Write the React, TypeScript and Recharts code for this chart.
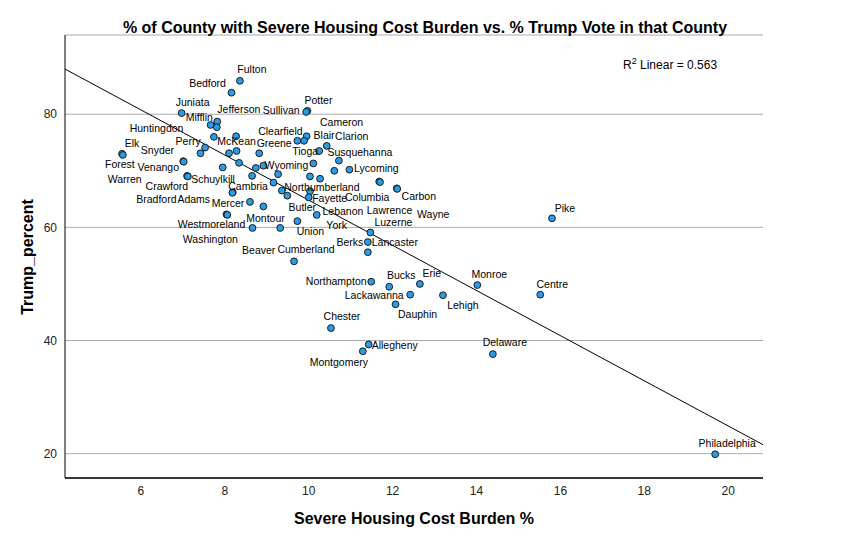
import React from "react";
import {
  ScatterChart,
  Scatter,
  XAxis,
  YAxis,
  CartesianGrid,
  ReferenceLine,
  Customized,
} from "recharts";

document.body.style.margin = "0";

// county label ("" = label suppressed, point hidden behind a neighbour's label)
const counties = [
  "Fulton", "Bedford", "Juniata", "Huntingdon", "Mifflin", "Jefferson", "Potter", "Sullivan",
  "", "", "Cameron", "Clearfield", "Blair", "Clarion", "Elk", "Forest",
  "Perry", "Snyder", "", "McKean", "Greene", "Tioga", "Susquehanna", "Venango",
  "Warren", "", "", "", "Wyoming", "", "", "Lycoming",
  "Schuylkill", "Crawford", "Cambria", "", "", "", "Columbia", "Lawrence",
  "Carbon", "Wayne", "", "Northumberland", "Butler", "Lebanon", "Fayette", "Adams",
  "Bradford", "Mercer", "", "Westmoreland", "Washington", "Montour", "Beaver", "Union",
  "York", "Luzerne", "Berks", "Lancaster", "Cumberland", "Pike", "Northampton", "Bucks",
  "Erie", "Lackawanna", "Dauphin", "Lehigh", "Monroe", "Centre", "Chester", "Allegheny",
  "Montgomery", "Delaware", "Philadelphia",
];

// % of households with severe housing cost burden
const housingBurden = [
  8.36, 8.16, 6.97, 7.66, 7.82, 7.81, 9.97, 9.94,
  7.74, 8.27, 9.95, 9.73, 9.89, 10.43, 5.55, 5.57,
  7.53, 7.42, 8.10, 8.28, 8.82, 10.25, 10.72, 7.01,
  7.02, 8.34, 7.95, 8.74, 8.92, 10.11, 10.61, 10.97,
  7.10, 7.12, 8.65, 9.27, 10.03, 10.27, 11.68, 11.70,
  12.10, 12.11, 9.16, 9.36, 9.49, 10.03, 10.0, 8.19,
  8.18, 8.60, 8.92, 8.04, 8.06, 8.66, 9.32, 9.73,
  10.19, 11.47, 11.41, 11.41, 9.65, 15.80, 11.49, 11.92,
  12.65, 12.42, 12.07, 13.20, 14.02, 15.52, 10.53, 11.43,
  11.29, 14.39, 19.69,
];

// Trump vote share (%)
const trumpPercent = [
  85.9, 83.8, 80.2, 78.1, 78.7, 77.7, 80.6, 80.4,
  76.0, 76.1, 76.1, 75.3, 75.3, 74.4, 73.0, 72.8,
  74.1, 73.1, 73.1, 73.5, 73.1, 73.5, 71.8, 71.7,
  71.6, 71.4, 70.6, 70.5, 70.9, 71.3, 70.0, 70.2,
  69.1, 69.0, 69.1, 69.4, 69.0, 68.6, 68.1, 68.0,
  66.9, 66.8, 67.9, 66.5, 65.6, 66.4, 65.3, 66.2,
  66.1, 64.5, 63.7, 62.3, 62.2, 59.9, 59.9, 61.1,
  62.2, 59.1, 57.4, 55.6, 54.0, 61.6, 50.4, 49.5,
  50.0, 48.1, 46.4, 48.0, 49.8, 48.1, 42.2, 39.3,
  38.1, 37.6, 19.9,
];

const xTicks = [6, 8, 10, 12, 14, 16, 18, 20];
const yTicks = [20, 40, 60, 80];

// linear fit shown on the plot
const fitIntercept = 104.7;
const fitSlope = -3.99;
const rSquared = 0.563;

const X_DOMAIN: [number, number] = [4.19, 20.83];
const Y_DOMAIN: [number, number] = [15.7, 94];

// label centre offset from its point, px
const labelOffset: Record<string, [number, number]> = {
  Fulton: [12, -12], Bedford: [-24, -10], Juniata: [11, -11], Huntingdon: [-54, 3],
  Mifflin: [-18, -5], Jefferson: [22, -18], Potter: [11, -11], Sullivan: [-25, -2],
  Cameron: [35, -14], Clearfield: [-17, -10], Blair: [20, -6], Clarion: [25, -10],
  Elk: [10, -11], Forest: [-3, 9.5], Perry: [-17, -7], Snyder: [-43, -3],
  McKean: [0, -10], Greene: [15, -10], Tioga: [-14, 0], Susquehanna: [21, -9],
  Venango: [-25, 6], Warren: [-59, 17], Wyoming: [23, -1], Lycoming: [27, -2],
  Schuylkill: [26, 3], Crawford: [-21, 9.5], Cambria: [-4, 10], Columbia: [-12, 15],
  Lawrence: [9.5, 27.5], Carbon: [22, 8], Wayne: [36, 25], Northumberland: [40, -4],
  Butler: [15, 11], Lebanon: [33, 20], Fayette: [21, 1], Adams: [-39, 7],
  Bradford: [-76, 6.5], Mercer: [-22, 1], Westmoreland: [-15, 10], Washington: [-17, 24],
  Montour: [13, -10], Beaver: [-21.5, 22], Union: [13, 10], York: [20, 10],
  Luzerne: [23, -10], Berks: [-18, 0], Lancaster: [27, -10], Cumberland: [12, -12],
  Pike: [13, -10], Northampton: [-35, -1], Bucks: [12, -12], Erie: [12, -11],
  Lackawanna: [-36, 0], Dauphin: [22, 10], Lehigh: [20, 10], Monroe: [12, -11],
  Centre: [12, -11], Chester: [11, -12], Allegheny: [26, 1], Montgomery: [-24, 11],
  Delaware: [12, -12], Philadelphia: [12, -11],
};

const data = counties.map((name, i) => ({
  name,
  burden: housingBurden[i],
  trump: trumpPercent[i],
}));

const fitAt = (x: number) => fitIntercept + fitSlope * x;

const FONT = "'Liberation Sans', Arial, sans-serif";
const NARROW = "'Liberation Sans Narrow', 'Liberation Sans', Arial, sans-serif";

const Dot = (props: any) => {
  const { cx, cy } = props;
  return <circle cx={cx} cy={cy} r={3.4} fill="#2a9be6" stroke="#1b1b1b" strokeWidth={1} />;
};

const CountyLabel = (props: any) => {
  const { cx, cy, payload } = props;
  const off = labelOffset[payload.name];
  if (!payload.name || !off) return <g />;
  return (
    <text
      x={cx + off[0]}
      y={cy + off[1]}
      textAnchor="middle"
      dominantBaseline="central"
      fontFamily={FONT}
      fontSize={10.5}
      fill="#000"
    >
      {payload.name}
    </text>
  );
};

const Annotations = () => (
  <g fontFamily={FONT} fill="#000">
    <text x={425} y={27} textAnchor="middle" dominantBaseline="central" fontSize={16} fontWeight="bold">
      % of County with Severe Housing Cost Burden vs. % Trump Vote in that County
    </text>
    <text x={414} y={518} textAnchor="middle" dominantBaseline="central" fontSize={16} fontWeight="bold">
      Severe Housing Cost Burden %
    </text>
    <text
      x={27}
      y={257}
      textAnchor="middle"
      dominantBaseline="central"
      fontSize={16}
      fontWeight="bold"
      transform="rotate(-90 27 257)"
    >
      Trump_percent
    </text>
    <text x={623} y={69} fontSize={12}>
      R<tspan dy={-5} fontSize={9}>2</tspan>
      <tspan dy={5}> Linear = {rSquared.toFixed(3)}</tspan>
    </text>
  </g>
);

export default function App() {
  return (
    <div style={{ width: 850, height: 540, background: "#fff" }}>
      <ScatterChart
        width={850}
        height={540}
        margin={{ top: 35, right: 87, bottom: 32, left: 20 }}
      >
        <CartesianGrid vertical={false} stroke="#ababab" strokeWidth={1} />
        <XAxis
          type="number"
          dataKey="burden"
          domain={X_DOMAIN}
          ticks={xTicks}
          allowDataOverflow
          height={30}
          tickLine={false}
          axisLine={{ stroke: "#000", strokeWidth: 1.5 }}
          tick={{ fill: "#222", fontSize: 12, fontFamily: NARROW }}
        />
        <YAxis
          type="number"
          dataKey="trump"
          domain={Y_DOMAIN}
          ticks={yTicks}
          allowDataOverflow
          width={45}
          tickLine={false}
          axisLine={{ stroke: "#000", strokeWidth: 1 }}
          tick={{ fill: "#222", fontSize: 12, fontFamily: NARROW }}
        />
        <ReferenceLine
          segment={[
            { x: X_DOMAIN[0], y: fitAt(X_DOMAIN[0]) },
            { x: X_DOMAIN[1], y: fitAt(X_DOMAIN[1]) },
          ]}
          stroke="#000"
          strokeWidth={1}
        />
        <Scatter data={data} shape={Dot} isAnimationActive={false} />
        <Scatter data={data} shape={CountyLabel} isAnimationActive={false} />
        <Customized component={Annotations} />
      </ScatterChart>
    </div>
  );
}
